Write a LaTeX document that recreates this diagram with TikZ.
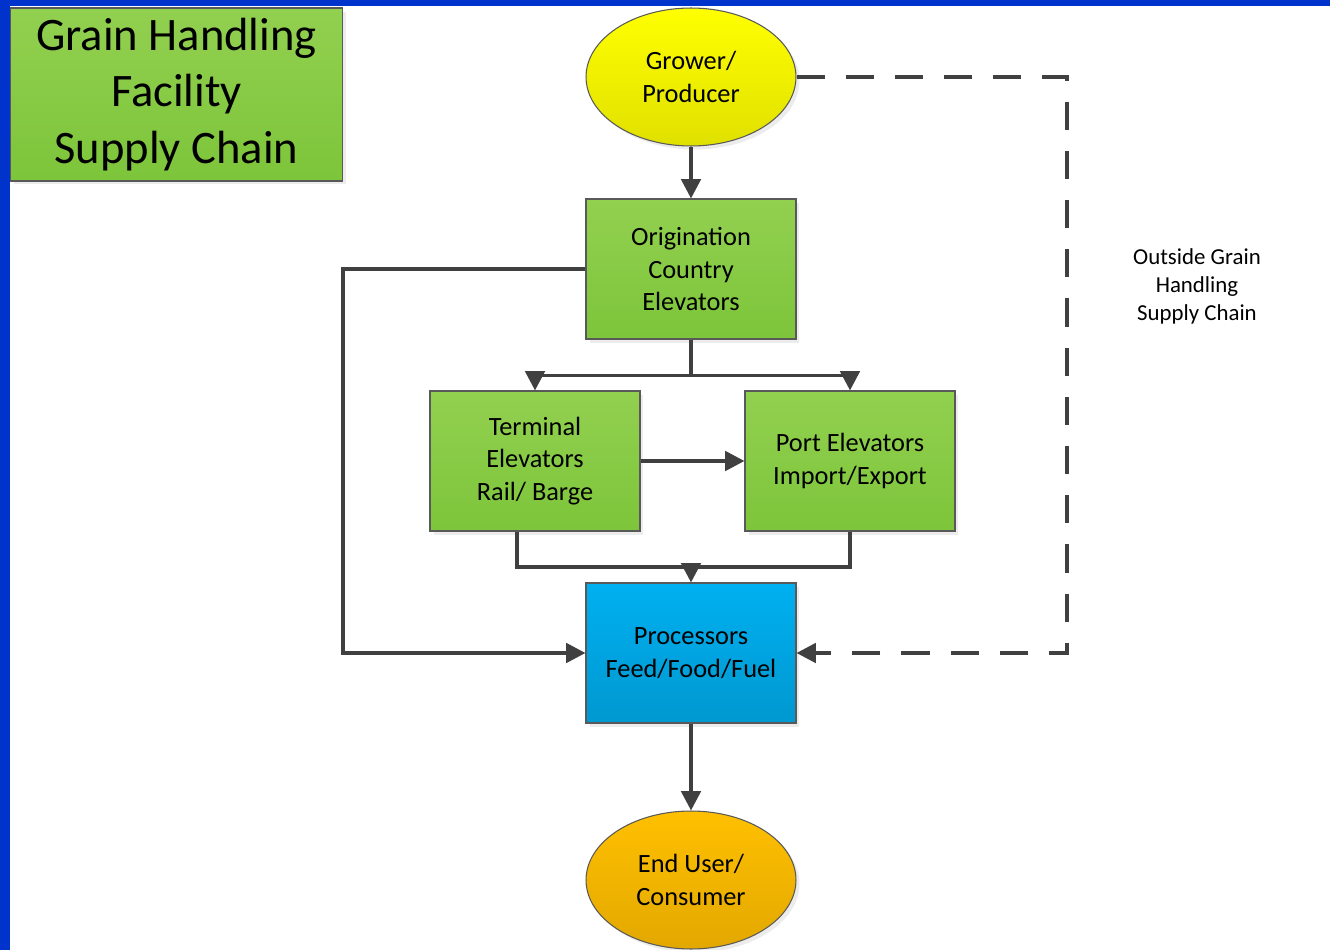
\documentclass[tikz,border=0pt]{standalone}
\usepackage{fontspec}
\setmainfont{Carlito}
\usetikzlibrary{arrows.meta,shapes.geometric,shadows}

\definecolor{slideblue}{HTML}{0033CC}
\definecolor{linegray}{HTML}{404040}
\definecolor{leafgreen}{HTML}{92D050}
\definecolor{leafdark}{HTML}{7DC53A}

\begin{document}
\begin{tikzpicture}[x=0.02cm, y=-0.02cm,
    every node/.style = {align=center, font=\fontsize{15}{18.7}\selectfont, text=black},
    stage/.style = {rectangle, draw=black!65, line width=0.6pt, minimum width=4.2cm, minimum height=2.8cm,
        drop shadow={opacity=0.15, shadow xshift=2pt, shadow yshift=-2pt}},
    endpoint/.style = {ellipse, draw=black!65, line width=0.6pt, minimum width=4.2cm, minimum height=2.76cm, inner sep=0pt,
        drop shadow={opacity=0.15, shadow xshift=2pt, shadow yshift=-2pt}},
    greenfill/.style = {top color=leafgreen, bottom color=leafdark},
    link/.style = {draw=linegray, line width=2.1pt},
    arr/.style = {link, -{Triangle[length=11pt, width=11pt]}}]

\useasboundingbox (0,0) rectangle (1330,950);
\fill[white] (0,0) rectangle (1330,950);
\fill[slideblue] (0,0) rectangle (1330,6);
\fill[slideblue] (0,0) rectangle (10,950);

% title
\node (title) [stage, greenfill, minimum width=6.66cm, minimum height=3.46cm,
    font=\fontsize{26.5}{32.3}\selectfont] at (176.5,94.5) {Grain Handling\\Facility\\Supply Chain};

% nodes
\node (grower) [endpoint, top color=yellow, bottom color=yellow!88!black] at (691,77) {Grower/\\Producer};
\node (orig) [stage, greenfill] at (691,269) {Origination\\Country\\Elevators};
\node (term) [stage, greenfill] at (535,461) {Terminal\\Elevators\\Rail/ Barge};
\node (port) [stage, greenfill] at (850,461) {Port Elevators\\Import/Export};
\node (proc) [stage, top color={rgb,255:red,0;green,176;blue,240}, bottom color={rgb,255:red,0;green,152;blue,208}] at (691,653) {Processors\\Feed/Food/Fuel};
\node (user) [endpoint, top color={rgb,255:red,255;green,192;blue,0}, bottom color={rgb,255:red,227;green,168;blue,0}] at (691,880) {End User/\\Consumer};
\node (outside) [font=\fontsize{13}{15.9}\selectfont] at (1197,286) {Outside Grain\\Handling\\Supply Chain};

% connectors
\draw[arr] (grower) -- (orig);
\draw[link] (orig.south) -- ++(0,36) coordinate (split);
\draw[arr] (split) -| (term.north);
\draw[arr] (split) -| (port.north);
\draw[arr] (term.east) -- (port.west);
\draw[link] ([xshift=-0.36cm]term.south) |- (691,567) coordinate (merge);
\draw[link] (port.south) |- (merge);
\draw[arr] (merge) -- (proc.north);
\draw[arr] (orig.west) -- (343,269) |- (proc.west);
\draw[arr, dash pattern={on 16pt off 12pt}] (grower.east) -- (1067,77) |- (proc.east);
\draw[arr] (proc) -- (user);
\end{tikzpicture}
\end{document}
